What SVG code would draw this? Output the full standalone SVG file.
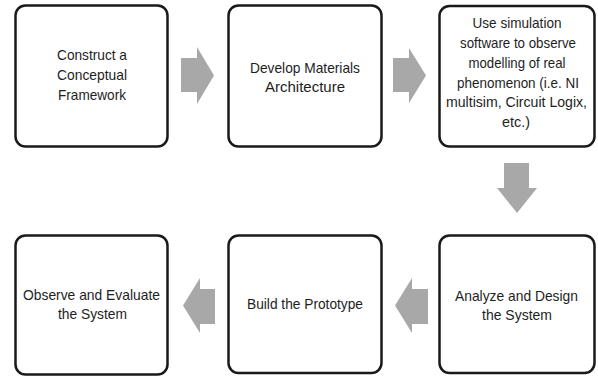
<svg xmlns="http://www.w3.org/2000/svg" width="598" height="378" viewBox="0 0 598 378">
<style>
.box{fill:#fff;stroke:#1a1a1a;stroke-width:2.5}
.lbl{font-family:"Liberation Sans",Arial,sans-serif;font-size:14.5px;fill:#1e1e1e;text-anchor:middle}
.arr{fill:#a8a8a8}
</style>
<rect width="598" height="378" fill="#fff"/>
<g id="connectors">
<polygon class="arr" points="181,58 197,58 197,47 214,75.5 197,104 197,92 181,92"/>
<polygon class="arr" points="393,58 409,58 409,48 426,75.5 409,103 409,92 393,92"/>
<polygon class="arr" points="504,163 529,163 529,188 537,188 517,213 497,188 504,188"/>
<polygon class="arr" points="428,289 412,289 412,278 395,305.5 412,333 412,324 428,324"/>
<polygon class="arr" points="215,289 200,289 200,278 183,305.5 200,333 200,324 215,324"/>
</g>
<g id="n1">
<rect class="box" x="15.5" y="5.5" width="152" height="141" rx="10"/>
<text class="lbl"><tspan x="92" y="60" textLength="70" lengthAdjust="spacingAndGlyphs">Construct a</tspan><tspan x="92" y="80" textLength="70" lengthAdjust="spacingAndGlyphs">Conceptual</tspan><tspan x="92" y="100" textLength="68" lengthAdjust="spacingAndGlyphs">Framework</tspan></text>
</g>
<g id="n2">
<rect class="box" x="228.5" y="5.5" width="153" height="141" rx="10"/>
<text class="lbl"><tspan x="305" y="73" textLength="110" lengthAdjust="spacingAndGlyphs">Develop Materials</tspan><tspan x="305" y="92" textLength="80" lengthAdjust="spacingAndGlyphs">Architecture</tspan></text>
</g>
<g id="n3">
<rect class="box" x="439.5" y="6" width="155" height="140.5" rx="10"/>
<text class="lbl"><tspan x="517" y="28" textLength="89" lengthAdjust="spacingAndGlyphs">Use simulation</tspan><tspan x="518" y="48" textLength="116" lengthAdjust="spacingAndGlyphs">software to observe</tspan><tspan x="517" y="68" textLength="97" lengthAdjust="spacingAndGlyphs">modelling of real</tspan><tspan x="518" y="88" textLength="122" lengthAdjust="spacingAndGlyphs">phenomenon (i.e. NI</tspan><tspan x="516.5" y="107" textLength="141" lengthAdjust="spacingAndGlyphs">multisim, Circuit Logix,</tspan><tspan x="516" y="127" textLength="28" lengthAdjust="spacingAndGlyphs">etc.)</tspan></text>
</g>
<g id="n4">
<rect class="box" x="439.5" y="235.5" width="155" height="137.5" rx="10"/>
<text class="lbl"><tspan x="516.5" y="301" textLength="123" lengthAdjust="spacingAndGlyphs">Analyze and Design</tspan><tspan x="517" y="320" textLength="70" lengthAdjust="spacingAndGlyphs">the System</tspan></text>
</g>
<g id="n5">
<rect class="box" x="228.5" y="235.5" width="153" height="137.5" rx="10"/>
<text class="lbl"><tspan x="305" y="309" textLength="116" lengthAdjust="spacingAndGlyphs">Build the Prototype</tspan></text>
</g>
<g id="n6">
<rect class="box" x="15.5" y="235.5" width="152" height="139" rx="10"/>
<text class="lbl"><tspan x="91.5" y="300" textLength="137" lengthAdjust="spacingAndGlyphs">Observe and Evaluate</tspan><tspan x="92.5" y="319" textLength="69" lengthAdjust="spacingAndGlyphs">the System</tspan></text>
</g>
</svg>
